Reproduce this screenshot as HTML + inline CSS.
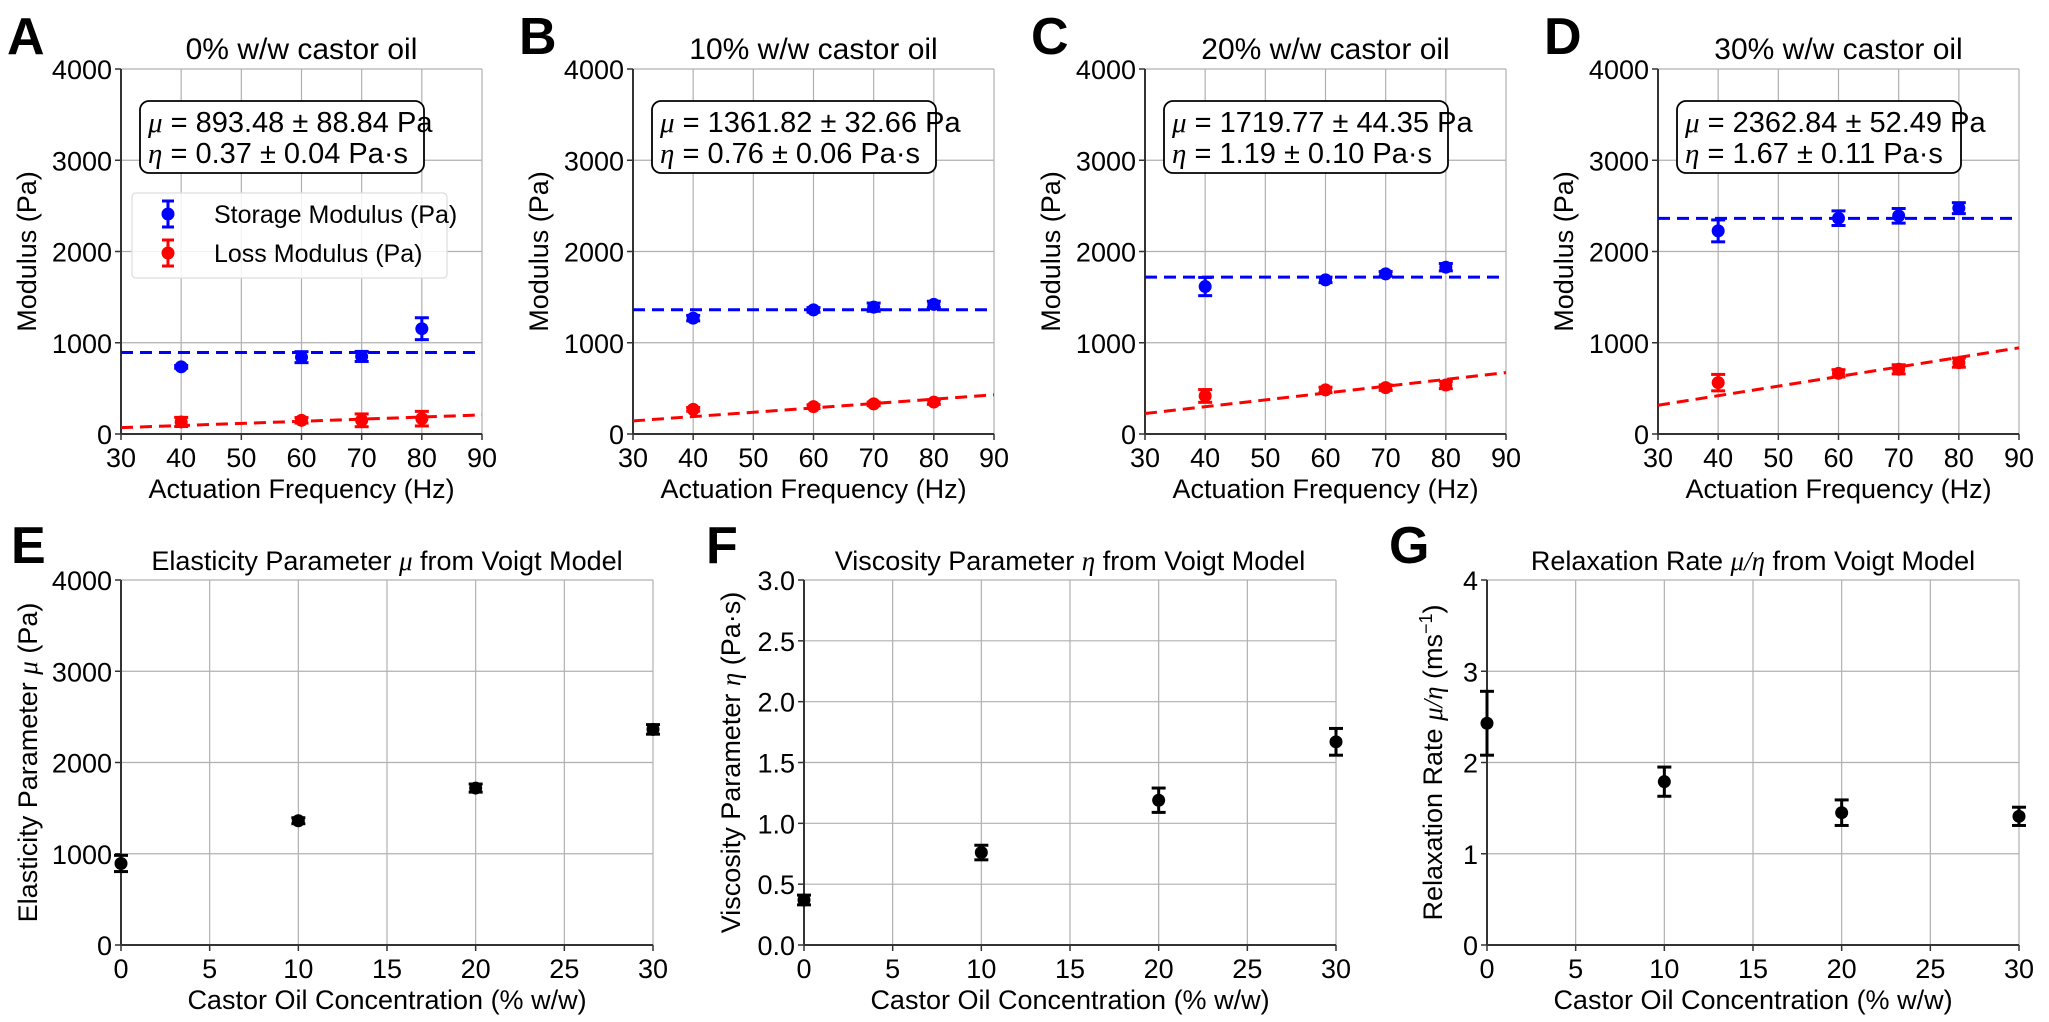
<!DOCTYPE html>
<html><head><meta charset="utf-8"><style>
body{margin:0;background:#fff;}
svg{display:block;font-family:"Liberation Sans","DejaVu Sans",sans-serif;}
</style></head><body>
<svg id="fig" width="2049" height="1022" viewBox="0 0 2049 1022" xmlns="http://www.w3.org/2000/svg"></svg>
<script>
// ---- data ----
const freqs = [40, 60, 70, 80];
const concentrations = ['0%', '10%', '20%', '30%'];
const storageA = [736, 842, 850, 1154];
const storageAErr = [15, 60, 55, 120];
const lossA = [132, 150, 150, 168];
const lossAErr = [50, 30, 70, 80];
const storageB = [1270, 1360, 1390, 1420];
const storageBErr = [30, 25, 45, 35];
const lossB = [270, 300, 330, 350];
const lossBErr = [20, 20, 20, 25];
const storageC = [1616, 1689, 1755, 1828];
const storageCErr = [100, 30, 25, 40];
const lossC = [417, 483, 508, 537];
const lossCErr = [70, 30, 30, 40];
const storageD = [2226, 2365, 2391, 2475];
const storageDErr = [120, 80, 80, 60];
const lossD = [563, 665, 709, 782];
const lossDErr = [90, 40, 50, 50];
const muVals = [893.48, 1361.82, 1719.77, 2362.84];
const muErrs = [88.84, 32.66, 44.35, 52.49];
const etaVals = [0.37, 0.76, 1.19, 1.67];
const etaErrs = [0.04, 0.06, 0.10, 0.11];
const concX = [0, 10, 20, 30];
const rateVals = [2.43, 1.79, 1.45, 1.41];
const rateErrs = [0.35, 0.16, 0.14, 0.10];
const freqTicks = [30, 40, 50, 60, 70, 80, 90];
const modTicks = [0, 1000, 2000, 3000, 4000];
const concTicks = [0, 5, 10, 15, 20, 25, 30];
const etaTicks = ['0.0', '0.5', '1.0', '1.5', '2.0', '2.5', '3.0'];
const rateTicks = [0, 1, 2, 3, 4];

const NS = 'http://www.w3.org/2000/svg';
const svg = document.getElementById('fig');
function mk(tag, attrs, parent, text) {
  const e = document.createElementNS(NS, tag);
  for (const k in attrs) e.setAttribute(k, attrs[k]);
  if (text !== undefined) e.textContent = text;
  (parent || svg).appendChild(e);
  return e;
}
const FS = 27;

function axes(g, L, R, T, B, xmin, xmax, ymin, ymax, xt, yt, xlab, ylab, title, ylabX) {
  const sx = v => L + (v - xmin) / (xmax - xmin) * (R - L);
  const sy = v => B - (v - ymin) / (ymax - ymin) * (B - T);
  xt.forEach(t => {
    const x = sx(+t);
    const gl = mk('line', {x1: x, x2: x, y1: T, y2: B, stroke: '#b0b0b0', 'stroke-width': 1.2}, g);
    
    
    mk('line', {x1: x, x2: x, y1: B, y2: B + 6, stroke: '#333', 'stroke-width': 1.5}, g);
    const tl = mk('text', {x: x, y: B + 33, 'font-size': FS, 'text-anchor': 'middle'}, g, t);
    
    
  });
  yt.forEach(t => {
    const y = sy(+t);
    const gl = mk('line', {x1: L, x2: R, y1: y, y2: y, stroke: '#b0b0b0', 'stroke-width': 1.2}, g);
    
    
    mk('line', {x1: L - 6, x2: L, y1: y, y2: y, stroke: '#333', 'stroke-width': 1.5}, g);
    const tl = mk('text', {x: L - 9, y: y + 10, 'font-size': FS, 'text-anchor': 'end'}, g, t);
    
    
  });
  mk('line', {x1: L, x2: L, y1: T, y2: B, stroke: '#333', 'stroke-width': 2}, g);
  mk('line', {x1: L, x2: R, y1: B, y2: B, stroke: '#333', 'stroke-width': 2}, g);
  const xl = mk('text', {x: (L + R) / 2, y: B + 64, 'font-size': FS, 'text-anchor': 'middle'}, g, xlab);
  
  
  const yl = mk('text', {x: 0, y: 0, 'font-size': FS, 'text-anchor': 'middle', transform: `translate(${ylabX},${(T + B) / 2}) rotate(-90)`}, g);
  yl.innerHTML = ylab;
  
  
  const tt = mk('text', {x: (L + R) / 2, y: T - 10, 'font-size': FS + (title.big ? 3 : 0), 'text-anchor': 'middle'}, g);
  tt.innerHTML = title.t;
  
  
  return {sx, sy};
}
function errpts(g, sc, xs, ys, es, color, name) {
  xs.forEach((xv, i) => {
    const x = sc.sx(xv), y = sc.sy(ys[i]), y1 = sc.sy(ys[i] - es[i]), y2 = sc.sy(ys[i] + es[i]);
    const grp = mk('g', {}, g);
    
    
    mk('line', {x1: x, x2: x, y1: y1, y2: y2, stroke: color, 'stroke-width': 3}, grp);
    mk('line', {x1: x - 7, x2: x + 7, y1: y1, y2: y1, stroke: color, 'stroke-width': 3}, grp);
    mk('line', {x1: x - 7, x2: x + 7, y1: y2, y2: y2, stroke: color, 'stroke-width': 3}, grp);
    mk('circle', {cx: x, cy: y, r: 6.5, fill: color}, grp);
  });
}
function letter(x, y, t) {
  const e = mk('text', {x: x, y: y, 'font-size': 52, 'font-weight': 'bold'}, svg, t);
  
  
}

const panels = [
  {L: 121, s: storageA, se: storageAErr, l: lossA, le: lossAErr, mu: muVals[0], mue: muErrs[0], eta: etaVals[0], etae: etaErrs[0], letter: 'A'},
  {L: 633, s: storageB, se: storageBErr, l: lossB, le: lossBErr, mu: muVals[1], mue: muErrs[1], eta: etaVals[1], etae: etaErrs[1], letter: 'B'},
  {L: 1145, s: storageC, se: storageCErr, l: lossC, le: lossCErr, mu: muVals[2], mue: muErrs[2], eta: etaVals[2], etae: etaErrs[2], letter: 'C'},
  {L: 1658, s: storageD, se: storageDErr, l: lossD, le: lossDErr, mu: muVals[3], mue: muErrs[3], eta: etaVals[3], etae: etaErrs[3], letter: 'D'}
];
panels.forEach((p, idx) => {
  const g = mk('g', {});
  
  
  const L = p.L, R = p.L + 361, T = 69, B = 434;
  const sc = axes(g, L, R, T, B, 30, 90, 0, 4000, freqTicks, modTicks, 'Actuation Frequency (Hz)', 'Modulus (Pa)',
    {t: concentrations[idx] + ' w/w castor oil', big: true}, L - 85);
  const fs = mk('line', {x1: sc.sx(30), x2: sc.sx(90), y1: sc.sy(p.mu), y2: sc.sy(p.mu), stroke: '#0000ff', 'stroke-width': 3, 'stroke-dasharray': '12,7'}, g);
  
  
  const w = f => 2 * Math.PI * f * p.eta;
  const fl = mk('line', {x1: sc.sx(30), x2: sc.sx(90), y1: sc.sy(w(30)), y2: sc.sy(w(90)), stroke: '#ff0000', 'stroke-width': 3, 'stroke-dasharray': '12,7'}, g);
  
  
  errpts(g, sc, freqs, p.s, p.se, '#0000ff', 'storage-point');
  errpts(g, sc, freqs, p.l, p.le, '#ff0000', 'loss-point');
  const bx = mk('g', {}, g);
  
  
  mk('rect', {x: L + 19, y: 101, width: 284, height: 72, rx: 9, fill: '#fff', stroke: '#000', 'stroke-width': 1.8}, bx);
  mk('text', {x: L + 27, y: 132, 'font-size': 29}, bx).innerHTML = '<tspan font-style="italic" font-family="Liberation Serif">μ</tspan> = ' + p.mu.toFixed(2) + ' ± ' + p.mue.toFixed(2) + ' Pa';
  mk('text', {x: L + 27, y: 163, 'font-size': 29}, bx).innerHTML = '<tspan font-style="italic" font-family="Liberation Serif">η</tspan> = ' + p.eta.toFixed(2) + ' ± ' + p.etae.toFixed(2) + ' Pa·s';
  letter(L - 114, 54, p.letter);
  if (idx === 0) {
    const lg = mk('g', {}, g);
    
    
    mk('rect', {x: 132, y: 193, width: 315, height: 85, rx: 4, fill: '#fff', 'fill-opacity': 0.85, stroke: '#ddd', 'stroke-width': 1.2}, lg);
    [['#0000ff', 'Storage Modulus (Pa)', 214], ['#ff0000', 'Loss Modulus (Pa)', 253]].forEach(e => {
      const en = mk('g', {}, lg);
      
      
      mk('line', {x1: 168, x2: 168, y1: e[2] - 13, y2: e[2] + 13, stroke: e[0], 'stroke-width': 3}, en);
      mk('line', {x1: 162, x2: 174, y1: e[2] - 13, y2: e[2] - 13, stroke: e[0], 'stroke-width': 3}, en);
      mk('line', {x1: 162, x2: 174, y1: e[2] + 13, y2: e[2] + 13, stroke: e[0], 'stroke-width': 3}, en);
      mk('circle', {cx: 168, cy: e[2], r: 6.5, fill: e[0]}, en);
      mk('text', {x: 214, y: e[2] + 9, 'font-size': 25}, en, e[1]);
    });
  }
});

const bottom = [
  {L: 121, vals: muVals, errs: muErrs, ymax: 4000, yt: modTicks, ylab: 'Elasticity Parameter <tspan font-style="italic" font-family="Liberation Serif">μ</tspan> (Pa)', title: 'Elasticity Parameter <tspan font-style="italic" font-family="Liberation Serif">μ</tspan> from Voigt Model', letter: 'E', ylx: 121 - 84},
  {L: 804, vals: etaVals, errs: etaErrs, ymax: 3, yt: etaTicks, ylab: 'Viscosity Parameter <tspan font-style="italic" font-family="Liberation Serif">η</tspan> (Pa·s)', title: 'Viscosity Parameter <tspan font-style="italic" font-family="Liberation Serif">η</tspan> from Voigt Model', letter: 'F', ylx: 804 - 64},
  {L: 1487, vals: rateVals, errs: rateErrs, ymax: 4, yt: rateTicks, ylab: 'Relaxation Rate <tspan font-style="italic" font-family="Liberation Serif">μ/η</tspan> (ms<tspan font-size="18" dy="-10">−1</tspan><tspan dy="10">)</tspan>', title: 'Relaxation Rate <tspan font-style="italic" font-family="Liberation Serif">μ/η</tspan> from Voigt Model', letter: 'G', ylx: 1487 - 45}
];
bottom.forEach(p => {
  const g = mk('g', {});
  
  
  const sc = axes(g, p.L, p.L + 532, 580, 945, 0, 30, 0, p.ymax, concTicks, p.yt, 'Castor Oil Concentration (% w/w)', p.ylab, {t: p.title}, p.ylx);
  errpts(g, sc, concX, p.vals, p.errs, '#000', 'data-point');
  letter(p.L - (p.letter === 'E' ? 110 : 98), 563, p.letter);
});
</script>
</body></html>
